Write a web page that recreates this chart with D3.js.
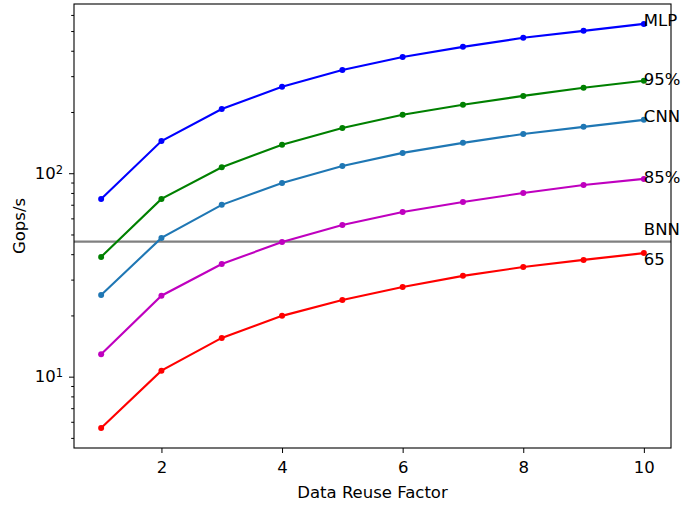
<!DOCTYPE html>
<html>
<head>
<meta charset="utf-8">
<script src="https://cdn.jsdelivr.net/npm/d3@7"></script>
<style>
  body { margin: 0; background: #fff; }
  svg { font-family: "DejaVu Sans", sans-serif; }
</style>
</head>
<body>
<div id="chart"></div>
<script>
// data
var reuse = [1, 2, 3, 4, 5, 6, 7, 8, 9, 10];
var mlp  = [74.8, 144, 207, 266, 322, 373, 418, 463, 501, 542];
var p95  = [38.8, 74.8, 107, 138, 167, 194, 217, 240, 263, 285];
var cnn  = [25.2, 48.1, 69.9, 89.6, 108.6, 125.9, 141, 156, 169, 183];
var p85  = [12.9, 25.0, 35.8, 45.9, 55.7, 64.5, 72.2, 80.0, 87.5, 93.8];
var r65  = [5.6, 10.7, 15.5, 19.9, 23.8, 27.6, 31.3, 34.6, 37.5, 40.5];
var bnn = 46.1;
var seriesNames = ["MLP", "95%", "CNN", "85%", "65"];
var seriesColors = ["#0000ff", "#008000", "#1f77b4", "#bf00bf", "#ff0000"];
var labelNames = ["MLP", "95%", "CNN", "85%", "BNN", "65"];
var labelY = [527, 272, 179, 89.6, 49.8, 35.2];
var xTicks = [2, 4, 6, 8, 10];
var yTicks = [10, 100];

var series = [mlp, p95, cnn, p85, r65];

var width = 681, height = 506;
var margin = {top: 4, right: 10, bottom: 58, left: 74};
var w = width - margin.left - margin.right;
var h = height - margin.top - margin.bottom;

var svg = d3.select("#chart").append("svg")
    .attr("width", width).attr("height", height);
var g = svg.append("g").attr("transform", "translate(" + margin.left + "," + margin.top + ")");

var x = d3.scaleLinear().domain([0.55, 10.45]).range([0, w]);
var y = d3.scaleLog().domain([4.46, 679]).range([h, 0]);

// clip for lines
svg.append("defs").append("clipPath").attr("id", "clip")
    .append("rect").attr("width", w).attr("height", h);

var plot = g.append("g").attr("clip-path", "url(#clip)");

// BNN reference line
plot.append("line")
    .attr("x1", 0).attr("x2", w)
    .attr("y1", y(bnn)).attr("y2", y(bnn))
    .attr("stroke", "#808080").attr("stroke-width", 2.1);

var line = d3.line()
    .x(function(d, i) { return x(reuse[i]); })
    .y(function(d) { return y(d); });

series.forEach(function(s, k) {
    plot.append("path")
        .datum(s)
        .attr("fill", "none")
        .attr("stroke", seriesColors[k])
        .attr("stroke-width", 2.1)
        .attr("d", line);
    plot.selectAll(".dot" + k)
        .data(s)
        .enter().append("circle")
        .attr("cx", function(d, i) { return x(reuse[i]); })
        .attr("cy", function(d) { return y(d); })
        .attr("r", 3)
        .attr("fill", seriesColors[k]);
});

// labels at x = 10
labelNames.forEach(function(t, i) {
    g.append("text")
        .attr("x", x(10))
        .attr("y", y(labelY[i]))
        .attr("font-size", "16.5px")
        .attr("fill", "#000")
        .text(t);
});

// x axis
var xAxis = g.append("g")
    .attr("transform", "translate(0," + h + ")")
    .call(d3.axisBottom(x).tickValues(xTicks).tickSize(5).tickPadding(8).tickFormat(d3.format("d")));
xAxis.select(".domain").remove();
xAxis.selectAll("text").attr("font-size", "16.5px").attr("fill", "#000")
    .attr("font-family", "DejaVu Sans");

// y axis: minor ticks
var minor = [];
[1, 10, 100].forEach(function(dec) {
    for (var m = 2; m <= 9; m++) {
        var v = m * dec;
        if (v > 4.46 && v < 679) minor.push(v);
    }
});
var yMinor = g.append("g")
    .call(d3.axisLeft(y).tickValues(minor).tickSize(2.8).tickFormat(""));
yMinor.select(".domain").remove();

var yAxis = g.append("g")
    .call(d3.axisLeft(y).tickValues(yTicks).tickSize(5).tickPadding(5).tickFormat(""));
yAxis.select(".domain").remove();
yAxis.selectAll(".tick").each(function(d) {
    var t = d3.select(this).append("text")
        .attr("x", -11).attr("dy", "0.32em")
        .attr("text-anchor", "end")
        .attr("fill", "#000")
        .attr("font-size", "16.5px")
        .attr("font-family", "DejaVu Sans");
    t.append("tspan").text("10");
    t.append("tspan").attr("dy", "-0.45em").attr("font-size", "11.5px")
        .text(Math.round(Math.log10(d)));
});

// frame
g.append("rect")
    .attr("width", w).attr("height", h)
    .attr("fill", "none").attr("stroke", "#000").attr("stroke-width", 1.1);

// axis titles
g.append("text")
    .attr("x", x(5.5)).attr("y", h + 50)
    .attr("text-anchor", "middle")
    .attr("font-size", "16.5px")
    .text("Data Reuse Factor");

g.append("text")
    .attr("transform", "translate(" + (-49) + "," + (h / 2) + ") rotate(-90)")
    .attr("text-anchor", "middle")
    .attr("font-size", "16.5px")
    .text("Gops/s");
</script>
</body>
</html>
